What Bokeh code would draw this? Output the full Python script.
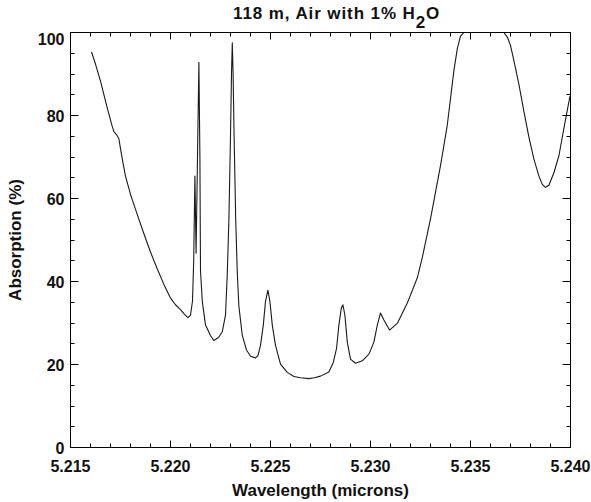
from bokeh.plotting import figure
from bokeh.models import (Range1d, LinearAxis, FixedTicker, NumeralTickFormatter,
                          ColumnDataSource, Div)
from bokeh.layouts import column
from bokeh.embed import file_html
from bokeh.resources import INLINE

# ---- data ----
wavelength = [
    5.21605, 5.21625, 5.21650, 5.21684, 5.21709, 5.21717, 5.21730, 5.21742,
    5.21750, 5.21759, 5.21775, 5.21800, 5.21834, 5.21867, 5.21900, 5.21934,
    5.21967, 5.22000, 5.22025, 5.22050, 5.22070, 5.22087, 5.22100, 5.22110,
    5.22116, 5.22122, 5.22128, 5.22135, 5.22142, 5.22147, 5.22150, 5.22159,
    5.22175, 5.22200, 5.22216, 5.22240, 5.22259, 5.22275, 5.22284, 5.22292,
    5.22300, 5.22305, 5.22309, 5.22313, 5.22318, 5.22326, 5.22334, 5.22342,
    5.22359, 5.22380, 5.22400, 5.22425, 5.22437, 5.22450, 5.22464, 5.22475,
    5.22487, 5.22497, 5.22509, 5.22525, 5.22550, 5.22584, 5.22617, 5.22650,
    5.22692, 5.22720, 5.22750, 5.22792, 5.22814, 5.22830, 5.22842, 5.22854,
    5.22862, 5.22872, 5.22884, 5.22900, 5.22925, 5.22959, 5.22992, 5.23017,
    5.23034, 5.23050, 5.23067, 5.23095, 5.23134, 5.23184, 5.23234, 5.23259,
    5.23300, 5.23350, 5.23384, 5.23417, 5.23434, 5.23450, 5.23467, 5.23667,
    5.23684, 5.23700, 5.23717, 5.23742, 5.23767, 5.23792, 5.23817, 5.23842,
    5.23859, 5.23875, 5.23892, 5.23917, 5.23942, 5.23967, 5.23997,
]
absorption = [
    95.3, 92.4, 88.3, 81.8, 77.3, 76.1, 75.4, 74.4,
    72.0, 69.5, 65.4, 61.0, 56.1, 51.5, 47.1, 43.0,
    39.3, 36.0, 34.4, 33.2, 32.1, 31.3, 31.9, 35.3,
    45.0, 65.4, 46.8, 70.0, 92.8, 70.0, 42.6, 35.2,
    29.5, 27.0, 25.8, 26.5, 27.9, 31.9, 42.0, 55.0,
    75.0, 90.0, 97.5, 90.0, 75.0, 55.0, 42.0, 34.0,
    27.0, 23.5, 22.0, 21.6, 22.1, 24.6, 29.5, 35.2,
    37.9, 35.2, 29.5, 24.6, 20.1, 18.1, 17.1, 16.8,
    16.6, 16.8, 17.2, 18.2, 20.5, 23.8, 29.5, 33.6,
    34.4, 31.9, 25.4, 21.3, 20.3, 20.9, 22.5, 25.4,
    29.5, 32.4, 30.7, 28.3, 29.9, 34.8, 40.9, 45.8,
    55.1, 67.9, 77.7, 90.8, 96.1, 99.1, 100.0, 100.0,
    98.9, 96.9, 93.2, 87.5, 81.0, 74.8, 69.5, 65.4,
    63.4, 62.7, 63.2, 66.2, 70.3, 76.9, 84.6,
]

x_major_ticks = [5.215, 5.220, 5.225, 5.230, 5.235, 5.240]
x_minor_ticks = [5.215 + 0.001 * i for i in range(26)]
y_major_ticks = [0, 20, 40, 60, 80, 100]
y_minor_ticks = list(range(0, 101, 5))

title_html = ("118 m, Air with 1% H"
              "<span style='position:relative; top:9px;'>2</span>O")
x_label = "Wavelength (microns)"
y_label = "Absorption (%)"

FONT = "Liberation Sans"

title_div = Div(
    text=("<div style=\"font-family:'Liberation Sans', Arial, sans-serif; "
          "font-weight:bold; font-size:17px; line-height:17px; color:#111; "
          "letter-spacing:0.9px; "
          "padding-left:233px; padding-top:5px; white-space:nowrap;\">"
          + title_html + "</div>"),
    width=591, height=32, margin=(0, 0, 0, 0),
)

p = figure(width=591, height=470, output_backend="svg", toolbar_location=None,
           x_range=Range1d(5.215, 5.240), y_range=Range1d(0, 100),
           min_border_left=70, min_border_right=21, min_border_top=0,
           min_border_bottom=55, title=None, margin=(0, 0, 0, 0))
p.outline_line_color = None
p.background_fill_color = "white"
p.border_fill_color = "white"
p.grid.visible = False
p.xaxis.visible = False
p.yaxis.visible = False
p.below = []
p.left = []

src = ColumnDataSource(dict(x=wavelength, y=absorption))
p.line("x", "y", source=src, line_color="#1a1a1a", line_width=1.1,
       line_join="round")


def style_axis(ax, major, minor, show_labels, maj_len, min_len):
    ax.ticker = FixedTicker(ticks=major, minor_ticks=minor)
    ax.axis_line_color = "black"
    ax.axis_line_width = 1
    ax.major_tick_line_color = "black"
    ax.minor_tick_line_color = "black"
    ax.major_tick_in = maj_len
    ax.major_tick_out = 0
    ax.minor_tick_in = min_len
    ax.minor_tick_out = 0
    ax.major_label_text_font = FONT
    ax.major_label_text_font_style = "bold"
    ax.major_label_text_font_size = "16px"
    ax.major_label_text_color = "#111111"
    ax.axis_label_text_font = FONT
    ax.axis_label_text_font_style = "bold"
    ax.axis_label_text_font_size = "17px"
    ax.axis_label_text_color = "#111111"
    if not show_labels:
        ax.major_label_text_font_size = "0px"
        ax.major_label_text_alpha = 0
        ax.major_label_standoff = 0


xb = LinearAxis(axis_label=x_label, formatter=NumeralTickFormatter(format="0.000"))
style_axis(xb, x_major_ticks, x_minor_ticks, True, 7, 4)
xb.major_label_standoff = 12
xb.axis_label_standoff = 6
p.add_layout(xb, "below")

xt = LinearAxis()
style_axis(xt, x_major_ticks, x_minor_ticks, False, 7, 4)
p.add_layout(xt, "above")

yl = LinearAxis(axis_label=y_label, formatter=NumeralTickFormatter(format="0"))
style_axis(yl, y_major_ticks, y_minor_ticks, True, 8, 4)
yl.major_label_standoff = 6
yl.axis_label_standoff = 10
p.add_layout(yl, "left")

yr = LinearAxis()
style_axis(yr, y_major_ticks, y_minor_ticks, False, 8, 4)
p.add_layout(yr, "right")

layout = column(title_div, p, spacing=0)

open("out.html", "w").write(file_html(layout, INLINE))
